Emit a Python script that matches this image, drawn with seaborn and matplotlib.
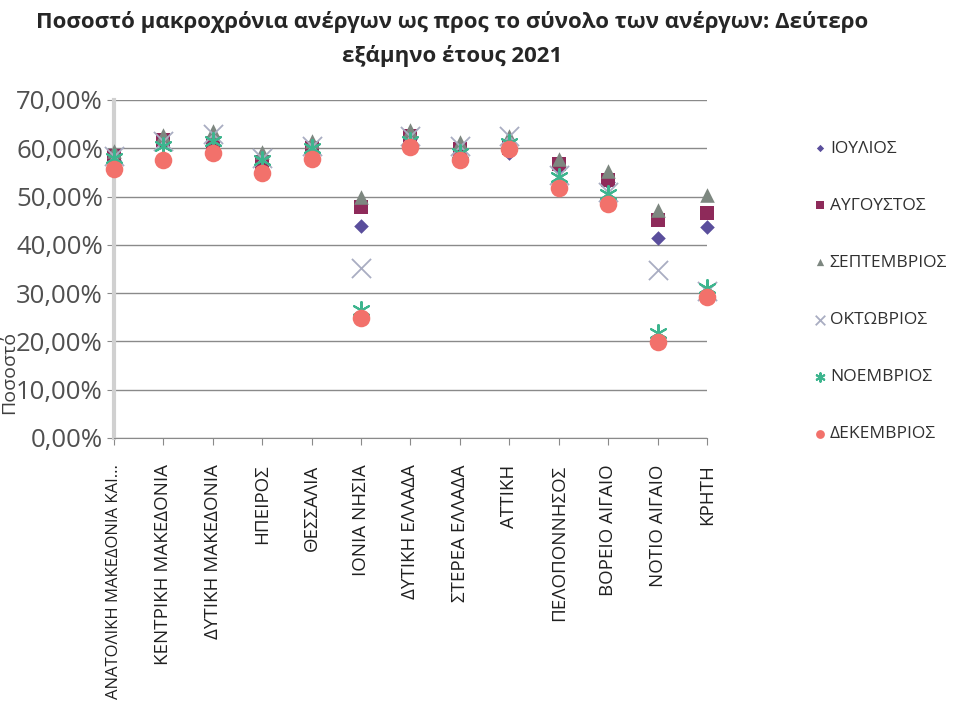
import pandas as pd
import seaborn as sns
import matplotlib.pyplot as plt

sns.set_style('white')
plt.rcParams['font.family'] = ['Open Sans', 'DejaVu Sans']

# ----------------------------------------------------------------------
# data
# ----------------------------------------------------------------------
regions = ['ΑΝΑΤΟΛΙΚΗ ΜΑΚΕΔΟΝΙΑ ΚΑΙ...', 'ΚΕΝΤΡΙΚΗ ΜΑΚΕΔΟΝΙΑ', 'ΔΥΤΙΚΗ ΜΑΚΕΔΟΝΙΑ',
           'ΗΠΕΙΡΟΣ', 'ΘΕΣΣΑΛΙΑ', 'ΙΟΝΙΑ ΝΗΣΙΑ', 'ΔΥΤΙΚΗ ΕΛΛΑΔΑ', 'ΣΤΕΡΕΑ ΕΛΛΑΔΑ',
           'ΑΤΤΙΚΗ', 'ΠΕΛΟΠΟΝΝΗΣΟΣ', 'ΒΟΡΕΙΟ ΑΙΓΑΙΟ', 'ΝΟΤΙΟ ΑΙΓΑΙΟ', 'ΚΡΗΤΗ']

months = ['ΙΟΥΛΙΟΣ', 'ΑΥΓΟΥΣΤΟΣ', 'ΣΕΠΤΕΜΒΡΙΟΣ', 'ΟΚΤΩΒΡΙΟΣ', 'ΝΟΕΜΒΡΙΟΣ', 'ΔΕΚΕΜΒΡΙΟΣ']

jul = [57.5, 61.0, 60.5, 56.5, 59.5, 44.0, 62.0, 58.5, 59.0, 56.0, 53.0, 41.5, 43.8]
aug = [58.3, 61.7, 61.0, 57.2, 60.0, 47.9, 62.5, 59.8, 60.0, 56.8, 53.5, 45.1, 46.5]
sep = [59.5, 62.8, 63.5, 59.3, 61.5, 49.9, 63.8, 61.2, 62.5, 57.8, 55.2, 47.2, 50.3]
okt = [58.5, 61.5, 63.0, 58.0, 60.5, 35.2, 62.5, 60.5, 62.5, 54.5, 51.0, 34.8, 30.5]
nov = [58.0, 60.5, 61.5, 57.5, 60.0, 26.5, 61.5, 59.0, 61.0, 54.0, 50.5, 21.7, 31.0]
dec = [55.8, 57.6, 59.0, 54.8, 57.7, 24.9, 60.3, 57.6, 59.8, 51.7, 48.4, 19.9, 29.2]

series = [jul, aug, sep, okt, nov, dec]

df = pd.concat([pd.DataFrame({'Region': regions, 'pos': range(len(regions)),
                              'Month': m, 'Value': v})
                for m, v in zip(months, series)], ignore_index=True)

palette = {'ΙΟΥΛΙΟΣ': '#5A4E9C', 'ΑΥΓΟΥΣΤΟΣ': '#8E2A5A', 'ΣΕΠΤΕΜΒΡΙΟΣ': '#7D8780',
           'ΟΚΤΩΒΡΙΟΣ': '#A9ADC2', 'ΝΟΕΜΒΡΙΟΣ': '#3DB58E', 'ΔΕΚΕΜΒΡΙΟΣ': '#F2716B'}
markers = {'ΙΟΥΛΙΟΣ': 'D', 'ΑΥΓΟΥΣΤΟΣ': 's', 'ΣΕΠΤΕΜΒΡΙΟΣ': '^',
           'ΟΚΤΩΒΡΙΟΣ': 'x', 'ΝΟΕΜΒΡΙΟΣ': (6, 2, 0), 'ΔΕΚΕΜΒΡΙΟΣ': 'o'}
sizes = {'ΙΟΥΛΙΟΣ': 55, 'ΑΥΓΟΥΣΤΟΣ': 110, 'ΣΕΠΤΕΜΒΡΙΟΣ': 110,
         'ΟΚΤΩΒΡΙΟΣ': 190, 'ΝΟΕΜΒΡΙΟΣ': 150, 'ΔΕΚΕΜΒΡΙΟΣ': 160}
widths = {'ΟΚΤΩΒΡΙΟΣ': 1.3, 'ΝΟΕΜΒΡΙΟΣ': 1.5}

# ----------------------------------------------------------------------
# plot
# ----------------------------------------------------------------------
fig = plt.figure(figsize=(9.62, 7.15), dpi=100)
ax = fig.add_axes([114 / 962, 1 - 438 / 715, (707 - 114) / 962, (438 - 100) / 715])

for m in months:
    sub = df[df['Month'] == m]
    sns.scatterplot(data=sub, x='pos', y='Value', marker=markers[m], color=palette[m],
                    s=sizes[m], linewidth=widths.get(m, 0),
                    label=m, ax=ax, clip_on=False, zorder=3)

ax.set_xlim(0, len(regions) - 1)
ax.set_ylim(0, 70)
ax.set_yticks(range(0, 71, 10))
ax.set_yticklabels([f'{v},00%' for v in range(0, 71, 10)], fontsize=18.5, color='#505050')
ax.set_xticks(range(len(regions)))
ax.set_xticklabels(regions, rotation=90, fontsize=13.5, color='#202020')
# the long first label is a bit smaller so it stays inside the figure
ax.get_xticklabels()[0].set_fontsize(12)
ax.grid(axis='y', color='#8a8a8a', linewidth=1)
ax.set_axisbelow(True)
ax.tick_params(axis='x', length=5, color='#8a8a8a', direction='out', bottom=True, pad=14)
ax.tick_params(axis='y', length=5, color='#8a8a8a', direction='out', left=True, pad=3)
for side in ('top', 'right'):
    ax.spines[side].set_visible(False)
ax.spines['left'].set_color('#d0d0d0')
ax.spines['left'].set_linewidth(3)
ax.spines['bottom'].set_color('#8a8a8a')
ax.set_xlabel('')
ax.set_ylabel('')

# axis title sits at the far left so it does not run into the tick labels
fig.text(9 / 962, 1 - 372 / 715, 'Ποσοστό', rotation=90, fontsize=14,
         color='#404040', ha='center', va='center')

fig.text(452 / 962, 1 - 22 / 715, 'Ποσοστό μακροχρόνια ανέργων ως προς το σύνολο των ανέργων: Δεύτερο',
         fontsize=16, fontweight='bold', ha='center', va='center')
fig.text(452 / 962, 1 - 56 / 715, 'εξάμηνο έτους 2021',
         fontsize=16, fontweight='bold', ha='center', va='center')

ax.get_legend().remove()
handles, labels = ax.get_legend_handles_labels()
fig.legend(handles, labels, loc='upper left', bbox_to_anchor=(796 / 962, 1 - 125 / 715),
           frameon=False, fontsize=12.5, labelspacing=2.36, handletextpad=0.05,
           handlelength=1.0, markerscale=0.5, labelcolor='#303030')

fig.savefig('out.png', dpi=100)
